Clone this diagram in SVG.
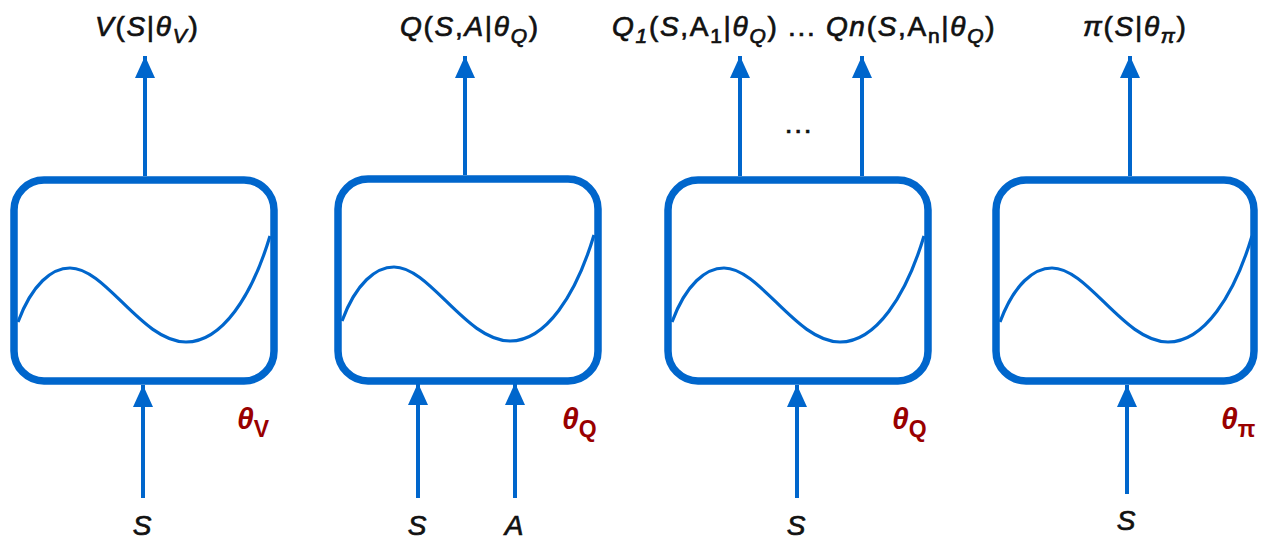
<svg xmlns="http://www.w3.org/2000/svg" width="1263" height="546" viewBox="0 0 1263 546">
<defs>
<style>
.box{fill:none;stroke:#0066CC;stroke-width:7.5}
.curve{fill:none;stroke:#0066CC;stroke-width:3.2}
.con{stroke:#0066CC;stroke-width:4;fill:none;marker-end:url(#ah)}
.lbl{font-family:"Liberation Sans",Arial,sans-serif;font-size:28px;letter-spacing:1.7px;fill:#111;stroke:#111;stroke-width:0.7px}
.th{font-family:"Liberation Sans",Arial,sans-serif;font-size:30px;font-weight:bold;fill:#990000}
.it{font-style:italic}
.sub{font-size:21px}
.tsub{font-size:23px}
</style>
<marker id="ah" markerWidth="22" markerHeight="20" refX="22" refY="10" orient="auto" markerUnits="userSpaceOnUse" viewBox="0 0 22 20">
<path d="M0,0 L22,10 L0,20 Z" fill="#0066CC"/>
</marker>
<path id="wave" d="M4,142 C18,104 38,88 56,88 C92,88 128,162 172,162 C208,162 238,116 256,56"/>
</defs>

<g id="connectors">
<line class="con" x1="145" y1="176" x2="145" y2="56"/>
<line class="con" x1="143" y1="498" x2="143" y2="385"/>
<line class="con" x1="465" y1="175" x2="465" y2="56"/>
<line class="con" x1="418" y1="498" x2="418" y2="383"/>
<line class="con" x1="515" y1="498" x2="515" y2="383"/>
<line class="con" x1="740" y1="176" x2="740" y2="56"/>
<line class="con" x1="862" y1="176" x2="862" y2="56"/>
<line class="con" x1="797" y1="498" x2="797" y2="385"/>
<line class="con" x1="1130" y1="176" x2="1130" y2="56"/>
<line class="con" x1="1127" y1="494" x2="1127" y2="385"/>
</g>

<g id="node-v">
<rect class="box" x="14" y="180" width="260" height="201" rx="30"/>
<use href="#wave" class="curve" transform="translate(14,180)"/>
<text class="lbl" x="95" y="36"><tspan class="it">V</tspan>(<tspan class="it">S</tspan>|<tspan class="it">θ</tspan><tspan class="sub it" dy="7">V</tspan><tspan dy="-7">)</tspan></text>
<text class="th" x="237" y="429"><tspan class="it">θ</tspan><tspan class="tsub" dy="8">V</tspan></text>
<text class="lbl it" x="143" y="535" text-anchor="middle">S</text>
</g>

<g id="node-q">
<rect class="box" x="338" y="179" width="260" height="202" rx="30"/>
<use href="#wave" class="curve" transform="translate(338,179)"/>
<text class="lbl" x="400" y="36"><tspan class="it">Q</tspan>(<tspan class="it">S</tspan>,<tspan class="it">A</tspan>|<tspan class="it">θ</tspan><tspan class="sub it" dy="7">Q</tspan><tspan dy="-7">)</tspan></text>
<text class="th" x="562" y="429"><tspan class="it">θ</tspan><tspan class="tsub" dy="8">Q</tspan></text>
<text class="lbl it" x="418" y="535" text-anchor="middle">S</text>
<text class="lbl it" x="515" y="535" text-anchor="middle">A</text>
</g>

<g id="node-qn">
<rect class="box" x="668" y="180" width="260" height="201" rx="30"/>
<use href="#wave" class="curve" transform="translate(668,180)"/>
<text class="lbl" x="612" y="36"><tspan class="it">Q</tspan><tspan class="sub it" dy="7">1</tspan><tspan dy="-7">(</tspan><tspan class="it">S</tspan>,A<tspan class="sub" dy="7">1</tspan><tspan dy="-7">|</tspan><tspan class="it">θ</tspan><tspan class="sub it" dy="7">Q</tspan><tspan dy="-7">) ... </tspan><tspan class="it">Qn</tspan>(<tspan class="it">S</tspan>,A<tspan class="sub" dy="7">n</tspan><tspan dy="-7">|</tspan><tspan class="it">θ</tspan><tspan class="sub it" dy="7">Q</tspan><tspan dy="-7">)</tspan></text>
<text class="lbl" x="799" y="133" text-anchor="middle" letter-spacing="0.5">...</text>
<text class="th" x="892" y="429"><tspan class="it">θ</tspan><tspan class="tsub" dy="8">Q</tspan></text>
<text class="lbl it" x="797" y="535" text-anchor="middle">S</text>
</g>

<g id="node-pi">
<rect class="box" x="996" y="180" width="258" height="201" rx="30"/>
<use href="#wave" class="curve" transform="translate(996,180)"/>
<text class="lbl" x="1083" y="36"><tspan class="it">π</tspan>(<tspan class="it">S</tspan>|<tspan class="it">θ</tspan><tspan class="sub it" dy="7">π</tspan><tspan dy="-7">)</tspan></text>
<text class="th" x="1221" y="429"><tspan class="it">θ</tspan><tspan class="tsub" dy="8">π</tspan></text>
<text class="lbl it" x="1127" y="530" text-anchor="middle">S</text>
</g>
</svg>
